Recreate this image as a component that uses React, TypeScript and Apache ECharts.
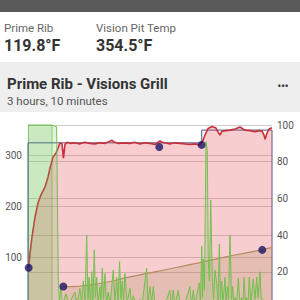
import React, { useEffect, useRef } from "react";
import * as echarts from "echarts";

// Time in minutes since start of cook (0..190), temperatures in °F, fan in %
const pitTemp: [number, number][] = [
  [0.5, 80], [1.6, 109], [3.1, 140], [5.5, 180], [7.8, 207], [10.1, 223], [13.2, 238],
  [15.6, 258], [17.1, 275], [19.5, 297], [21.8, 305], [23.4, 315], [24.9, 325], [26.5, 323],
  [27.6, 295], [28.8, 322], [30.4, 326], [33, 324], [36.6, 325], [40, 323], [44.4, 326],
  [48, 324], [52.2, 323], [56, 325], [60, 324], [63, 327], [65.4, 330], [67.5, 326],
  [70.1, 324], [75, 325], [79.4, 324], [83, 326], [87.2, 323], [91, 325], [95, 324],
  [98.9, 322], [101, 326], [102.8, 329], [104.5, 326], [106.6, 325], [110.5, 323],
  [114, 325], [118.4, 324], [122, 323], [126.1, 322], [130, 323], [133.9, 321],
  [136.3, 330], [137.8, 340], [140.2, 353], [143.3, 357], [146.4, 354], [148, 346],
  [149.5, 340], [151.1, 348], [154, 349], [157.3, 350], [161.2, 352], [165.1, 356],
  [168.9, 350], [172.9, 349], [176.8, 347], [180, 349], [182.3, 348], [183.8, 340],
  [184.6, 332], [186.2, 345], [187.7, 352], [190, 354.5],
];

const meatTemp: [number, number][] = [
  [27.5, 43], [33, 43], [40.5, 44], [48, 46], [56, 49], [62, 52], [68, 55], [74, 59],
  [79.4, 62], [89, 67], [99, 72], [107, 76], [114.5, 80], [124, 85], [134, 90],
  [146, 97], [157, 103], [170, 109], [182, 115], [190, 119.8],
];

const setpoint: [number, number][] = [
  [0, 0], [0, 325], [135.3, 325], [135.3, 350], [190, 350], [190, 0],
];

const fanPct: [number, number][] = [
  [0, 100], [18.7, 100], [22.3, 99], [23.6, 15], [24.5, 3], [25.7, 12], [26.9, 2],
  [29.6, 8], [31.9, 2], [34.3, 6], [36.6, 9], [38.2, 2], [40.5, 11], [41.7, 3],
  [43.1, 15], [44.4, 4], [45.7, 40], [46.7, 5], [47.5, 17], [48.7, 3], [49.6, 20],
  [50.6, 4], [51.6, 32], [52.6, 6], [53.5, 17], [54.5, 3], [56.1, 12], [56.8, 4],
  [57.9, 22], [58.8, 5], [60.0, 19], [61.1, 3], [62.5, 9], [63.9, 2], [66.4, 21],
  [67.7, 4], [69.1, 17], [70.1, 3], [71.3, 25.5], [72.4, 5], [73.4, 15], [74.4, 4],
  [75.5, 19], [77.1, 3], [79.4, 11], [80.6, 2], [82.0, 7], [84.1, 2], [87.2, 5],
  [88.8, 2], [91.1, 15], [92.4, 22], [93.4, 3], [95.0, 12], [96.2, 3], [97.6, 12],
  [98.9, 2], [102.8, 4], [106.6, 2], [110.5, 10], [111.7, 2], [113.1, 10], [114.4, 2],
  [117.0, 10], [118.4, 2], [122.2, 3], [126.1, 12], [127.3, 2], [128.7, 10], [130.0, 2],
  [132.6, 12], [133.4, 14], [134.3, 3], [135.3, 34], [135.9, 6], [136.5, 27],
  [137.4, 10], [138.6, 91], [139.6, 86], [140.4, 26], [141.3, 15], [142.3, 59],
  [143.5, 17], [144.5, 5], [145.6, 21], [146.9, 14], [148.0, 4], [149.0, 35],
  [149.9, 5], [150.8, 15], [151.8, 3], [153.4, 17], [154.2, 4], [155.2, 12],
  [156.1, 5], [157.3, 40], [158.5, 5], [159.4, 12], [160.4, 2], [161.2, 6],
  [162.4, 2], [163.8, 16.5], [165.1, 2], [166.4, 6], [167.4, 2], [168.2, 17],
  [169.4, 3], [170.3, 6], [171.3, 2], [172.3, 17], [173.6, 4], [175.4, 16],
  [176.8, 5], [178.1, 17], [179.1, 6], [180.7, 20], [181.4, 8], [182.8, 3],
  [184.5, 2], [186.9, 4], [190, 3],
];

const notes: [number, number][] = [
  [0.5, 80], [27.5, 43], [102.2, 317], [135.2, 321], [182.4, 115],
];

const leftTicks = [100, 200, 300];

const FONT = "Roboto, 'Noto Sans', sans-serif";

export default function App() {
  const ref = useRef<HTMLDivElement>(null);
  useEffect(() => {
    if (!ref.current) return;
    const chart = echarts.init(ref.current, null, { renderer: "svg" });
    chart.setOption({
      animation: false,
      backgroundColor: "#ffffff",
      textStyle: { fontFamily: FONT },
      graphic: [
        { type: "rect", shape: { x: 0, y: 0, width: 300, height: 12 }, style: { fill: "#595959" } },
        { type: "text", x: 4, y: 27.5, style: { text: "Prime Rib", fill: "#666666", fontSize: 11.5, fontFamily: FONT, verticalAlign: "middle" } },
        { type: "text", x: 4, y: 45.5, style: { text: "119.8°F", fill: "#333333", fontSize: 16, fontWeight: "bold", fontFamily: FONT, verticalAlign: "middle" } },
        { type: "text", x: 96, y: 27.5, style: { text: "Vision Pit Temp", fill: "#666666", fontSize: 11.5, fontFamily: FONT, verticalAlign: "middle" } },
        { type: "text", x: 96, y: 45.5, style: { text: "354.5°F", fill: "#333333", fontSize: 16, fontWeight: "bold", fontFamily: FONT, verticalAlign: "middle" } },
        { type: "rect", shape: { x: 0, y: 62, width: 300, height: 50 }, style: { fill: "#eeeeee" } },
        { type: "text", x: 7, y: 84, style: { text: "Prime Rib - Visions Grill", fill: "#333333", fontSize: 15, fontWeight: "bold", fontFamily: FONT, verticalAlign: "middle" } },
        { type: "text", x: 7, y: 100.5, style: { text: "3 hours, 10 minutes", fill: "#555555", fontSize: 11.5, fontFamily: FONT, verticalAlign: "middle" } },
        { type: "text", x: 283, y: 86.5, style: { text: "•••", fill: "#333333", fontSize: 10, fontWeight: "bold", fontFamily: FONT, align: "center", verticalAlign: "middle" } },
      ],
      grid: { left: 28, right: 28, top: 125, bottom: 11.5 },
      xAxis: { type: "value", min: 0, max: 190, show: false },
      yAxis: [
        {
          type: "value", min: 0, max: 360, interval: 100, position: "left",
          axisLine: { show: true, lineStyle: { color: "#d5d5d5" } },
          axisTick: { show: false },
          splitLine: { lineStyle: { color: "#cfcfcf", width: 1 } },
          axisLabel: {
            color: "#555555", fontSize: 10, fontFamily: FONT, margin: 6,
            formatter: (v: number) => (leftTicks.includes(v) ? String(v) : ""),
          },
        },
        {
          type: "value", min: 0, max: 100, interval: 20, position: "right",
          axisLine: { show: false },
          axisTick: { show: false },
          splitLine: { lineStyle: { color: "#cfcfcf", width: 1 } },
          axisLabel: {
            color: "#555555", fontSize: 10, fontFamily: FONT, margin: 5,
            formatter: (v: number) => (v > 0 ? String(v) : ""),
          },
        },
      ],
      series: [
        {
          name: "Setpoint", type: "line", yAxisIndex: 0, data: setpoint, showSymbol: false,
          lineStyle: { color: "#44588a", width: 1 },
          z: 1,
        },
        {
          name: "Pit", type: "line", yAxisIndex: 0, data: pitTemp, showSymbol: false,
          lineStyle: { color: "#c8303a", width: 1.6 },
          areaStyle: { color: "rgba(226,76,86,0.4)", origin: "start" },
          z: 2,
        },
        {
          name: "Meat", type: "line", yAxisIndex: 0, data: meatTemp, showSymbol: false,
          lineStyle: { color: "#b88a62", width: 1.2 },
          areaStyle: { color: "rgba(170,130,70,0.3)", origin: "start" },
          z: 3,
        },
        {
          name: "Fan", type: "line", yAxisIndex: 1, data: fanPct, showSymbol: false,
          lineStyle: { color: "#72c04c", width: 1 },
          areaStyle: { color: "rgba(110,195,80,0.3)", origin: "start" },
          markArea: {
            silent: true,
            itemStyle: { color: "rgba(110,195,80,0.18)", borderColor: "rgba(100,180,70,0.6)", borderWidth: 1 },
            data: [[{ xAxis: 0.3 }, { xAxis: 18.7 }]],
          },
          z: 5,
        },
        {
          name: "Notes", type: "scatter", yAxisIndex: 0, data: notes,
          symbolSize: 8, itemStyle: { color: "#1b1464" },
          z: 6,
        },
      ],
    });
    return () => chart.dispose();
  }, []);
  return (
    <div
      ref={ref}
      style={{ position: "fixed", left: 0, top: 0, width: 300, height: 320 }}
    />
  );
}
